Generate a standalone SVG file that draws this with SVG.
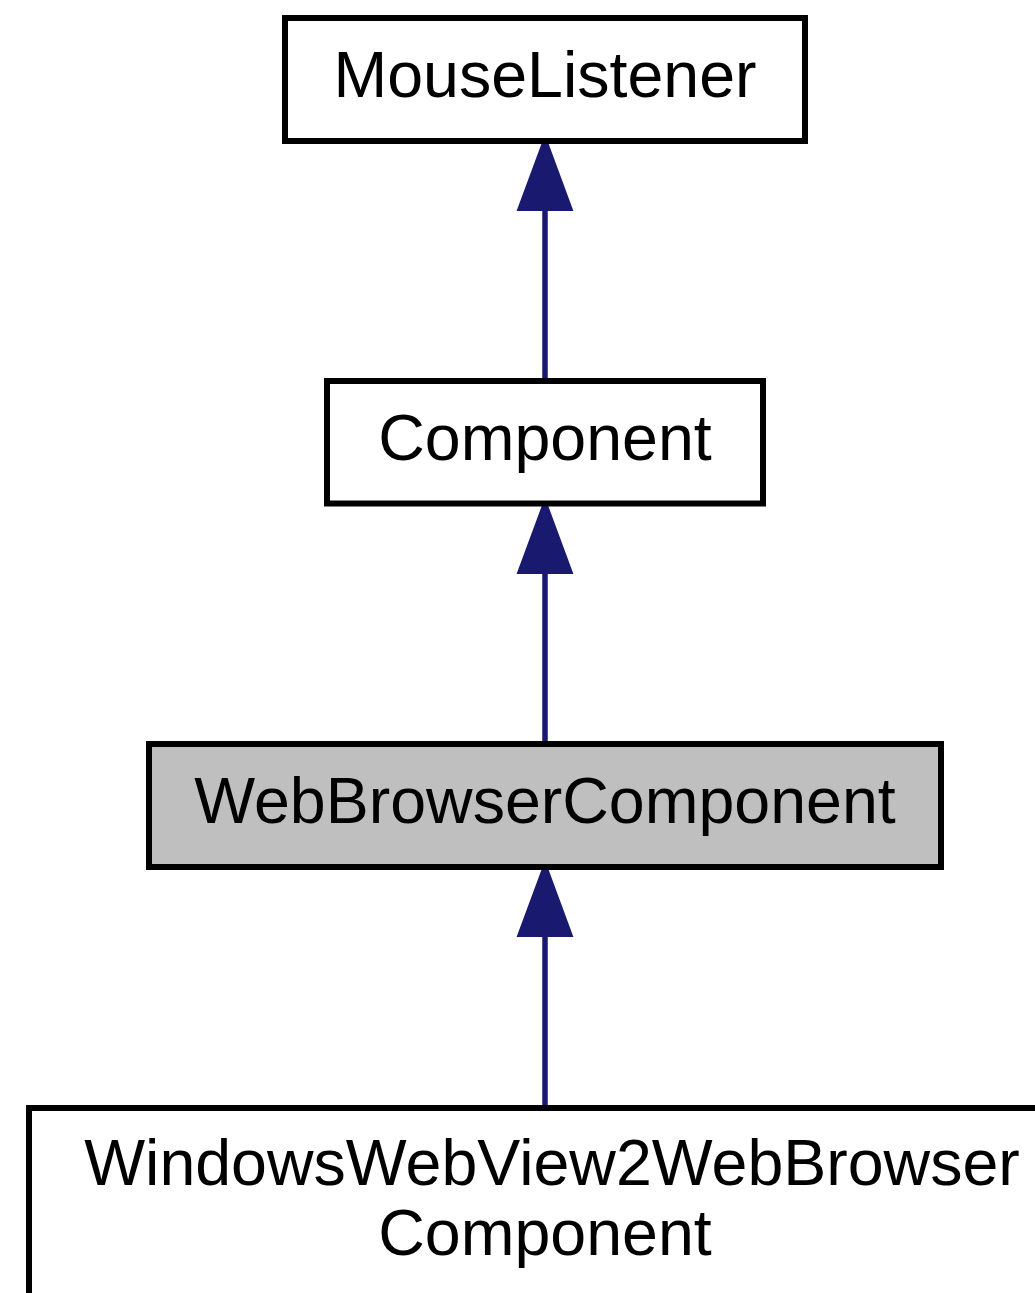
<svg xmlns="http://www.w3.org/2000/svg" width="1035" height="1293" viewBox="0 0 1035 1293">
<style>
.box{fill:#ffffff;stroke:#000000;stroke-width:6}
.cur{fill:#bfbfbf;stroke:#000000;stroke-width:6}
.lbl{font-family:"Liberation Sans",Arial,sans-serif;font-size:64.5px;fill:#000000;text-anchor:middle}
.edge{stroke:#191970;stroke-width:5.5;fill:none}
.head{fill:#191970;stroke:#191970;stroke-width:2}
</style>
<rect width="1035" height="1293" fill="#ffffff"/>
<g id="connectors">
<line class="edge" x1="545" y1="380" x2="545" y2="210"/>
<polygon class="head" points="545,137 518,210 572,210"/>
<line class="edge" x1="545" y1="744" x2="545" y2="573"/>
<polygon class="head" points="545,500 518,573 572,573"/>
<line class="edge" x1="545" y1="1107" x2="545" y2="936"/>
<polygon class="head" points="545,863 518,936 572,936"/>
</g>
<g id="node-MouseListener">
<rect class="box" x="285" y="18" width="520" height="123"/>
<text class="lbl" x="545" y="97">MouseListener</text>
</g>
<g id="node-Component">
<rect class="box" x="327" y="381" width="436" height="122.5"/>
<text class="lbl" x="545" y="460">Component</text>
</g>
<g id="node-WebBrowserComponent">
<rect class="cur" x="149" y="744" width="792" height="123"/>
<text class="lbl" x="545" y="823">WebBrowserComponent</text>
</g>
<g id="node-WindowsWebView2WebBrowserComponent">
<rect class="box" x="29" y="1108" width="1040" height="220"/>
<text class="lbl" x="552" y="1185">WindowsWebView2WebBrowser</text>
<text class="lbl" x="545" y="1255">Component</text>
</g>
</svg>
